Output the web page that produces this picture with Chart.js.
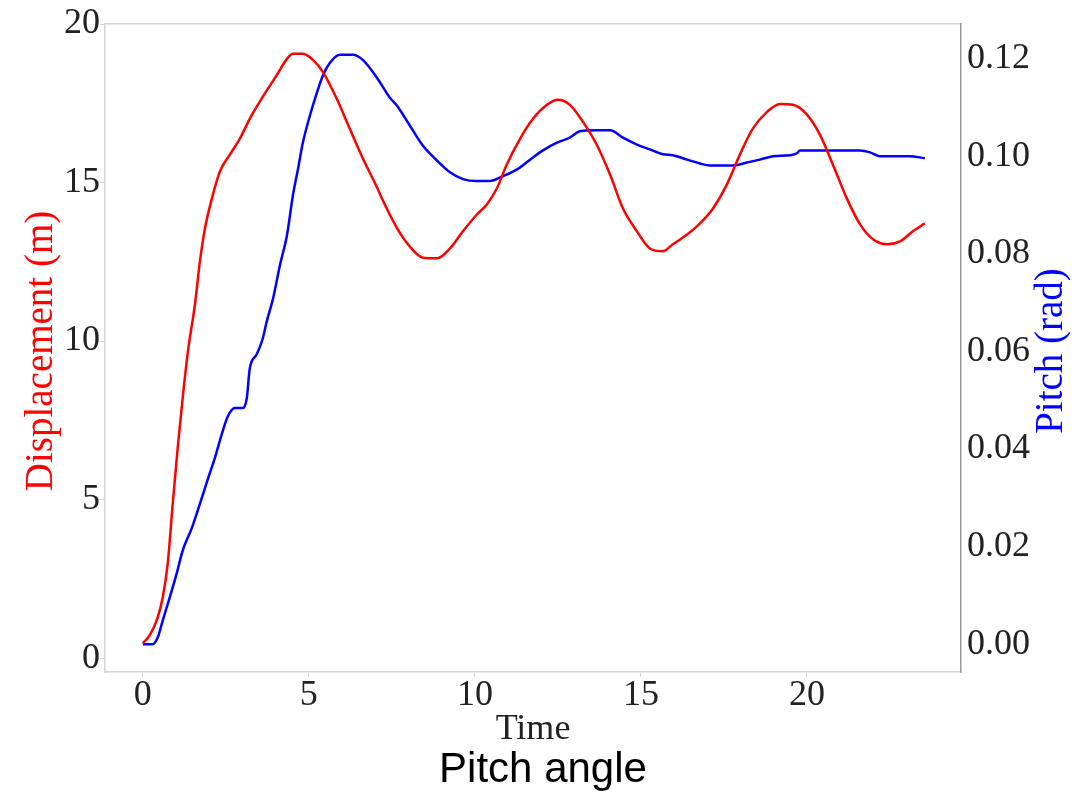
<!DOCTYPE html>
<html>
<head>
<meta charset="utf-8">
<script src="https://cdn.jsdelivr.net/npm/chart.js@4/dist/chart.umd.min.js"></script>
<style>
  html, body { margin: 0; padding: 0; background: #fff; }
  canvas { display: block; }
</style>
</head>
<body>
<canvas id="graficoPitch" width="1086" height="791"></canvas>
<script>
// Deslocamento (m) ao longo do tempo
const tempoDesloc = [0, 0.21, 0.45, 0.60, 0.75, 0.90, 1.05, 1.20, 1.36, 1.57, 1.72, 1.87, 2.08, 2.32, 2.62, 2.92,
  3.22, 3.61, 4.04, 4.34, 4.52, 4.82, 5.12, 5.42, 5.84, 6.23, 6.63, 7.05, 7.23, 7.65, 8.04, 8.43, 8.86, 9.25,
  9.64, 10.06, 10.36, 10.66, 10.96, 11.36, 11.75, 12.17, 12.50, 12.86, 13.25, 13.67, 14.07, 14.46, 14.88,
  15.27, 15.66, 15.96, 16.39, 16.78, 17.17, 17.59, 17.98, 18.37, 18.80, 19.19, 19.58, 20.00, 20.39, 20.78,
  21.20, 21.60, 21.99, 22.41, 22.80, 23.19, 23.55];
const deslocamento = [0.47, 0.72, 1.29, 1.92, 2.99, 4.87, 6.64, 8.21, 9.69, 11.16, 12.52, 13.55, 14.50, 15.35,
  15.88, 16.38, 17.01, 17.70, 18.40, 18.90, 19.06, 19.06, 18.87, 18.49, 17.64, 16.70, 15.75, 14.85, 14.43,
  13.57, 12.98, 12.63, 12.61, 12.92, 13.46, 13.99, 14.31, 14.81, 15.57, 16.38, 17.01, 17.45, 17.61, 17.45,
  16.92, 16.19, 15.25, 14.18, 13.46, 12.92, 12.83, 13.05, 13.36, 13.71, 14.18, 14.94, 15.88, 16.70, 17.23,
  17.48, 17.45, 17.14, 16.51, 15.57, 14.50, 13.68, 13.21, 13.05, 13.14, 13.46, 13.71];

// Ângulo de arfagem (rad) ao longo do tempo
const tempoPitch = [0, 0.30, 0.45, 0.60, 0.81, 1.02, 1.20, 1.48, 1.72, 1.96, 2.17, 2.38, 2.56, 2.77, 3.01, 3.13,
  3.22, 3.43, 3.61, 3.73, 3.92, 4.13, 4.34, 4.52, 4.67, 4.82, 5.03, 5.24, 5.42, 5.63, 5.93, 6.33, 6.63, 7.05,
  7.44, 7.65, 8.04, 8.43, 8.86, 9.25, 9.64, 10.06, 10.45, 10.84, 11.27, 11.66, 12.05, 12.47, 12.86, 13.16,
  13.67, 14.07, 14.46, 14.88, 15.27, 15.66, 15.96, 16.39, 16.78, 17.08, 17.77, 18.19, 18.58, 18.98, 19.49,
  19.70, 19.79, 21.60, 21.90, 22.20, 23.10, 23.55];
const pitch = [0.0, 0.0, 0.0014, 0.0049, 0.0096, 0.0145, 0.0192, 0.0239, 0.0288, 0.0339, 0.0382, 0.0431, 0.0467,
  0.0484, 0.0484, 0.0504, 0.0565, 0.0594, 0.0626, 0.0661, 0.0708, 0.0777, 0.0838, 0.0920, 0.0973, 0.1028,
  0.1083, 0.1130, 0.1165, 0.1191, 0.1208, 0.1208, 0.1197, 0.1161, 0.1120, 0.1104, 0.1063, 0.1022, 0.0991,
  0.0967, 0.0953, 0.0949, 0.0949, 0.0959, 0.0973, 0.0993, 0.1012, 0.1028, 0.1038, 0.1051, 0.1053, 0.1053,
  0.1038, 0.1024, 0.1014, 0.1004, 0.1002, 0.0993, 0.0985, 0.0981, 0.0981, 0.0987, 0.0993, 0.1000, 0.1002,
  0.1006, 0.1012, 0.1012, 0.1008, 0.1000, 0.1000, 0.0996];

// Marcas dos eixos
const ticksTempo = [0, 5, 10, 15, 20];
const ticksDesloc = [0, 5, 10, 15, 20];
const ticksPitch = [0, 0.02, 0.04, 0.06, 0.08, 0.10, 0.12];

const fonteSerif = "'Liberation Serif', 'Times New Roman', serif";
const cinzaClaro = "#d4d4d4";

function pontos(xs, ys) {
  return xs.map((x, i) => ({ x: x, y: ys[i] }));
}

function fixarTicks(valores) {
  return function (scale) {
    scale.ticks = valores.map(v => ({ value: v }));
  };
}

// Títulos dos eixos verticais, lidos de baixo para cima
const titulosLaterais = {
  id: "titulosLaterais",
  afterDraw(chart) {
    const { ctx, chartArea } = chart;
    const meio = (chartArea.top + chartArea.bottom) / 2 + 3;
    const desenhar = (texto, x, cor) => {
      ctx.save();
      ctx.translate(x, meio);
      ctx.rotate(-Math.PI / 2);
      ctx.font = "39px " + fonteSerif;
      ctx.fillStyle = cor;
      ctx.textAlign = "center";
      ctx.textBaseline = "middle";
      ctx.fillText(texto, 0, 0);
      ctx.restore();
    };
    desenhar("Displacement (m)", chart.scales.y.left + 42, "#ff0000");
    desenhar("Pitch (rad)", chart.scales.y2.right - 34, "#0000ff");
  }
};

const grafico = document.getElementById("graficoPitch").getContext("2d");
new Chart(grafico, {
  type: "scatter",
  data: {
    datasets: [
      {
        label: "Displacement",
        data: pontos(tempoDesloc, deslocamento),
        yAxisID: "y",
        showLine: true,
        borderColor: "#ff0000",
        borderWidth: 2.5,
        pointRadius: 0,
        cubicInterpolationMode: "monotone"
      },
      {
        label: "Pitch",
        data: pontos(tempoPitch, pitch),
        yAxisID: "y2",
        showLine: true,
        borderColor: "#0000ff",
        borderWidth: 2.5,
        pointRadius: 0,
        cubicInterpolationMode: "monotone"
      }
    ]
  },
  options: {
    responsive: false,
    animation: false,
    layout: { padding: { top: 21, left: 0, right: 0, bottom: 0 } },
    plugins: {
      legend: { display: false },
      tooltip: { enabled: false },
      title: {
        display: true,
        position: "bottom",
        text: "Pitch angle",
        color: "#000",
        font: { family: "'Liberation Sans', Arial, sans-serif", size: 42, weight: "normal", lineHeight: 1 },
        padding: 0
      }
    },
    scales: {
      x: {
        type: "linear",
        position: "bottom",
        min: -1.14,
        max: 24.64,
        afterBuildTicks: fixarTicks(ticksTempo),
        afterFit: s => { s.height = 77; },
        grid: { drawOnChartArea: false, drawTicks: true, tickLength: 5, color: cinzaClaro },
        border: { color: cinzaClaro, width: 1.5 },
        ticks: { color: "#222", font: { family: fonteSerif, size: 36 }, padding: -3, maxRotation: 0 },
        title: {
          display: true,
          text: "Time",
          color: "#222",
          font: { family: fonteSerif, size: 36, lineHeight: 1 },
          padding: { top: 0, bottom: 1 }
        }
      },
      xTopo: {
        type: "linear",
        position: "top",
        min: -1.14,
        max: 24.64,
        afterFit: s => { s.height = 0; },
        grid: { display: false },
        ticks: { display: false },
        border: { color: cinzaClaro, width: 1.5 }
      },
      y: {
        type: "linear",
        position: "left",
        min: -0.44,
        max: 20,
        afterBuildTicks: fixarTicks(ticksDesloc),
        afterFit: s => { s.width = 105; },
        grid: { drawOnChartArea: false, drawTicks: true, tickLength: 5, color: cinzaClaro },
        border: { color: cinzaClaro, width: 1.5 },
        ticks: { color: "#222", font: { family: fonteSerif, size: 36, lineHeight: 1 }, padding: 0 }
      },
      y2: {
        type: "linear",
        position: "right",
        min: -0.0057,
        max: 0.1271,
        afterBuildTicks: fixarTicks(ticksPitch),
        afterFit: s => { s.width = 125; },
        grid: { drawOnChartArea: false, drawTicks: false },
        border: { color: "#999", width: 1.5 },
        ticks: {
          color: "#222",
          font: { family: fonteSerif, size: 36, lineHeight: 1 },
          padding: 6,
          callback: v => v.toFixed(2)
        }
      }
    }
  },
  plugins: [titulosLaterais]
});
</script>
</body>
</html>
